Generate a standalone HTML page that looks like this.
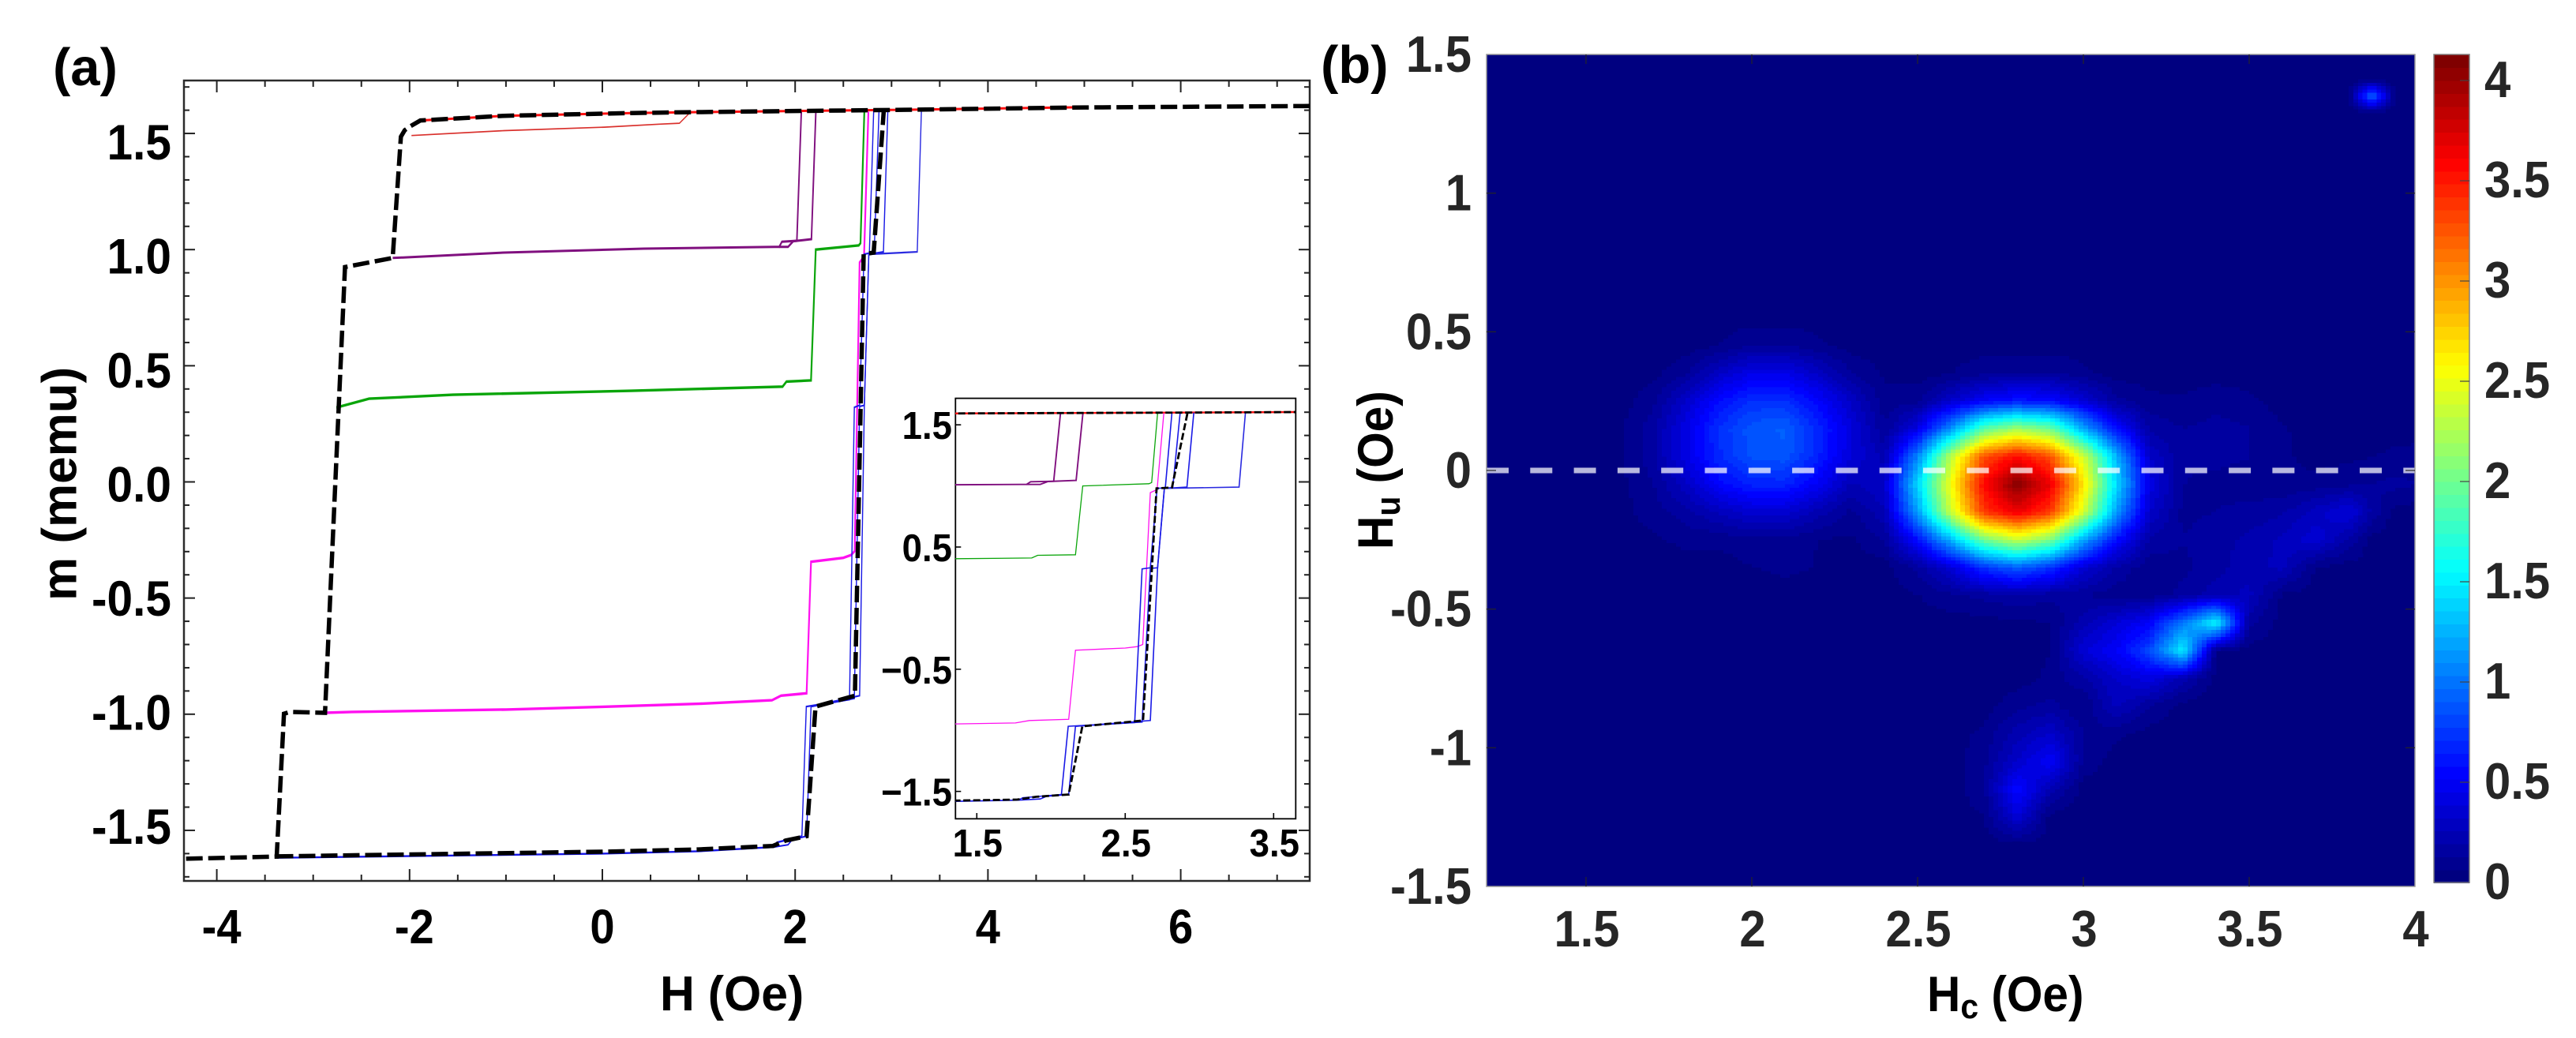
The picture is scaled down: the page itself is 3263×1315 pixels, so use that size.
<!DOCTYPE html>
<html lang="en">
<head>
<meta charset="utf-8">
<title>Hysteresis minor loops and FORC distribution</title>
<style>
html,body{margin:0;padding:0;background:#fff;width:3263px;height:1315px;overflow:hidden}
svg{display:block}
text{font-family:"Liberation Sans",sans-serif;font-weight:700}
</style>
</head>
<body>
<svg id="fig" xmlns="http://www.w3.org/2000/svg" width="3263" height="1315" viewBox="0 0 3263 1315">
  <rect width="3263" height="1315" fill="#fff"/>
  <defs>
    <clipPath id="clipMain"><rect x="233" y="102" width="1426" height="1014"/></clipPath>
    <clipPath id="clipInset"><rect x="1210" y="505" width="431" height="532"/></clipPath>
  </defs>
  <g id="panelA"></g>
  <g id="panelB"></g>
  <text x="67" y="108" font-size="67" fill="#000">(a)</text>
  <text x="1673" y="105" font-size="67" fill="#000">(b)</text>
  <text transform="translate(836,1280) scale(.98,1)" font-size="62" fill="#000">H (Oe)</text>
  <text transform="translate(96.5,761) rotate(-90)" font-size="62" fill="#000">m (memu)</text>
  <text transform="translate(2441,1281) scale(.93,1)" font-size="63" fill="#000">H<tspan font-size="44" dy="9">c</tspan><tspan dy="-9"> (Oe)</tspan></text>
  <text transform="translate(1764,696) rotate(-90) scale(.93,1)" font-size="63" fill="#000">H<tspan font-size="44" dy="9">u</tspan><tspan dy="-9"> (Oe)</tspan></text>
</svg>
<script>
// ---------- Panel (a) data: [H (Oe), m (memu)] ----------
const redLower = [[-1.98,1.491],[-1.02,1.512],[0.02,1.527],[0.59,1.54],[0.8,1.544],[0.917,1.593]];
const redUpper = [[-1.888,1.556],[-1.02,1.576],[0.3,1.588],[1,1.592],[3,1.601],[5.02,1.613]];
const purpleA = [[-2.175,0.964],[-2.07,0.966],[-1.02,0.987],[0.43,1.004],[1.79,1.012],[1.835,1.012],[1.863,1.034],[2.018,1.038],[2.064,1.594]];
const purpleB = [[1.835,1.012],[1.927,1.012],[1.98,1.036],[2.169,1.045],[2.215,1.594]];
const greenLoop = [[-2.76,0.32],[-2.42,0.358],[-1.55,0.375],[0.3,0.392],[1.87,0.41],[1.91,0.432],[2.165,0.437],[2.214,1.0],[2.66,1.018],[2.678,1.028],[2.718,1.594]];
const magentaLoop = [[-2.877,-0.994],[-2.6,-0.99],[-1,-0.98],[0,-0.968],[1,-0.955],[1.76,-0.94],[1.854,-0.92],[2.119,-0.91],[2.165,-0.344],[2.5,-0.327],[2.58,-0.315],[2.618,-0.298],[2.669,0.945],[2.715,0.97],[2.76,1.594]];
const blueLowerA = [[-3.378,-1.618],[0,-1.6],[1,-1.59],[1.78,-1.572],[1.81,-1.552],[2.07,-1.525]];
const blueLowerB = [[1.78,-1.572],[1.927,-1.562],[1.97,-1.54],[2.119,-1.525]];
const blueA = [[2.07,-1.525],[2.116,-0.967],[2.564,-0.937],[2.614,0.321],[2.669,0.33],[2.715,0.98],[2.77,0.985],[2.815,1.6]];
const blueB = [[2.119,-1.525],[2.165,-0.967],[2.614,-0.932],[2.669,0.325],[2.718,0.33],[2.764,0.98],[2.82,0.987],[2.87,1.6]];
const blueC = [[2.165,-0.967],[2.669,-0.92],[2.718,0.33],[2.764,0.98],[2.916,0.99],[2.962,1.6]];
const blueD = [[2.764,0.98],[3.267,0.99],[3.31,1.6]];
const dashUpper = [[7.34,1.618],[5,1.612],[3,1.601],[1,1.592],[0.3,1.588],[-1.02,1.576],[-1.888,1.556],[-1.99,1.531],[-2.05,1.514],[-2.09,1.486],[-2.175,0.964],[-2.67,0.925],[-2.877,-0.994],[-3.24,-0.99],[-3.303,-0.998],[-3.378,-1.613],[-4.34,-1.622]];
const dashLower = [[-3.378,-1.612],[0,-1.592],[1,-1.582],[1.77,-1.567],[1.9,-1.544],[2.119,-1.525],[2.211,-0.967],[2.62,-0.92],[2.711,0.98],[2.815,0.987],[2.92,1.6]];

const mainXLabels = [-4,-2,0,2,4,6];
const mainYLabels = ["1.5","1.0","0.5","0.0","-0.5","-1.0","-1.5"];
const mainYValues = [1.5,1.0,0.5,0,-0.5,-1.0,-1.5];
const insetXLabels = [1.5,2.5,3.5];
const insetYValues = [1.5,0.5,-0.5,-1.5];
const insetYLabels = ["1.5","0.5","\u22120.5","\u22121.5"];

// ---------- Panel (b) data: FORC density ----------
const hcValues = [1.2,1.6,1.7,1.8,1.9,2.0,2.1,2.2,2.3,2.4,2.5,2.6,2.7,2.8,2.9,3.0,3.1,3.2,3.3,3.4,3.5,3.6,3.7,3.8,3.87,3.94,4.0];
const huValues = [1.5,1.41,1.35,1.29,1.2,0.55,0.45,0.35,0.25,0.15,0.05,-0.05,-0.15,-0.25,-0.35,-0.45,-0.55,-0.65,-0.75,-0.85,-0.95,-1.05,-1.15,-1.25,-1.35,-1.5];
const zGrid = [
[0,0,0,0,0,0,0,0,0,0,0,0,0,0,0,0,0,0,0,0,0,0,0,0,0,0,0],
[0,0,0,0,0,0,0,0,0,0,0,0,0,0,0,0,0,0,0,0,0,0,0,0,0,0,0],
[0,0,0,0,0,0,0,0,0,0,0,0,0,0,0,0,0,0,0,0,0,0,0,0,.95,0,0],
[0,0,0,0,0,0,0,0,0,0,0,0,0,0,0,0,0,0,0,0,0,0,0,0,0,0,0],
[0,0,0,0,0,0,0,0,0,0,0,0,0,0,0,0,0,0,0,0,0,0,0,0,0,0,0],
[0,0,0,0,0,0,0,0,0,0,0,0,0,0,0,0,0,0,0,0,0,0,0,0,0,0,0],
[0,0,0,0,.03,.1,.1,.05,0,0,0,0,0,0,0,0,0,0,0,0,0,0,0,0,0,0,0],
[0,0,.01,.08,.28,.42,.42,.28,.1,.02,0,.03,.08,.1,.1,.05,0,0,0,0,0,0,0,0,0,0,0],
[0,0,.07,.3,.55,.7,.7,.52,.28,.06,.08,.3,.5,.6,.55,.35,.12,.05,.04,.08,.05,0,0,0,0,0,0],
[0,.02,.14,.4,.7,.86,.9,.66,.38,.1,.4,1.1,1.9,2.2,2.0,1.2,.55,.15,.1,.12,.1,.04,0,0,0,0,0],
[0,.02,.14,.4,.67,.84,.86,.64,.36,.2,1.05,2.3,3.3,3.6,3.3,2.4,1.25,.3,.1,.12,.1,.05,0,.02,.03,.05,.06],
[0,.01,.09,.27,.52,.65,.65,.47,.22,.3,1.4,2.55,3.6,4.1,3.7,2.7,1.4,.4,.1,.08,.06,.05,.06,.08,.1,.12,.1],
[0,.01,.06,.14,.24,.33,.33,.2,.08,.22,1.15,2.35,3.4,3.7,3.4,2.4,1.15,.3,.08,.1,.12,.15,.26,.38,.15,0,0],
[0,0,.02,.05,.05,.08,.08,.03,.02,.1,.55,1.25,2.0,2.35,2.05,1.2,.55,.15,.1,.14,.18,.25,.34,.15,0,0,0],
[0,0,0,0,0,.03,.05,.03,0,0,.12,.35,.7,.9,.7,.35,.15,.05,.08,.14,.2,.25,.03,0,0,0,0],
[0,0,0,0,0,0,0,0,0,0,.03,.08,.12,.15,.12,.1,.06,.06,.12,.2,.25,.02,0,0,0,0,0],
[0,0,0,0,0,0,0,0,0,.02,0,0,0,.02,.03,.2,.35,.5,1.0,1.55,.12,0,0,0,0,0,0],
[0,0,0,0,0,0,0,0,0,0,0,0,0,0,.03,.35,.5,.8,1.5,.02,0,0,0,0,0,0,0],
[0,0,0,0,0,0,0,0,0,0,0,0,0,0,.05,.15,.3,.4,.2,0,0,0,0,0,0,0,0],
[0,0,0,0,0,0,0,0,0,0,0,0,0,.08,.12,.03,.25,.1,0,0,0,0,0,0,0,0,0],
[0,0,0,0,0,0,0,0,0,0,0,0,.05,.2,.3,.1,.05,0,0,0,0,0,0,0,0,0,0],
[0,0,0,0,0,0,0,0,0,0,0,0,.08,.3,.5,.08,0,0,0,0,0,0,0,0,0,0,0],
[0,0,0,0,0,0,0,0,0,0,0,0,.08,.55,.2,0,0,0,0,0,0,0,0,0,0,0,0],
[0,0,0,0,0,0,0,0,0,0,0,0,.03,.35,0,0,0,0,0,0,0,0,0,0,0,0,0],
[0,0,0,0,0,0,0,0,0,0,0,0,0,0,0,0,0,0,0,0,0,0,0,0,0,0,0],
[0,0,0,0,0,0,0,0,0,0,0,0,0,0,0,0,0,0,0,0,0,0,0,0,0,0,0]
];
const heatXLabels = ["1.5","2","2.5","3","3.5","4"];
const heatXValues = [1.5,2,2.5,3,3.5,4];
const heatYLabels = ["1.5","1","0.5","0","-0.5","-1","-1.5"];
const heatYValues = [1.5,1,0.5,0,-0.5,-1,-1.5];
const barLabels = ["0","0.5","1","1.5","2","2.5","3","3.5","4"];
const barValues = [0,0.5,1,1.5,2,2.5,3,3.5,4];
const colorMax = 4.13;

// ---------- Axis functions ----------
const xMain = h => 763 + 122.1 * h;
const yMain = m => 610.5 - 294.3 * m;
const yMainLabel = m => 635.5 - 289 * m;
const xInset = h => 955.3 + 188 * h;
const yInset = m => 770.4 - 154.8 * m;
const xHeat = h => 1883 + 420 * (h - 1.2);
const yHeat = u => 596 - 351.3 * u;
const yBar = v => 1118 - 254 * v;

const NS = "http://www.w3.org/2000/svg";
const panelA = document.getElementById("panelA");
const panelB = document.getElementById("panelB");

function make(tag, attrs, parent) {
  const el = document.createElementNS(NS, tag);
  for (const k in attrs) el.setAttribute(k, attrs[k]);
  parent.appendChild(el);
  return el;
}
function seg(x1, y1, x2, y2, color, width, parent) {
  return make("line", {x1, y1, x2, y2, stroke: color, "stroke-width": width}, parent);
}
function label(x, y, str, size, anchor, sx, color, parent) {
  const el = make("text", {transform: `translate(${x},${y}) scale(${sx},1)`, "font-size": size, "text-anchor": anchor, fill: color}, parent);
  el.textContent = str;
  return el;
}
function curve(points, xf, yf, color, width, dash, parent) {
  const d = points.map(p => xf(p[0]).toFixed(1) + "," + yf(p[1]).toFixed(1)).join(" ");
  const attrs = {points: d, fill: "none", stroke: color, "stroke-width": width, "stroke-linejoin": "miter"};
  if (dash) attrs["stroke-dasharray"] = dash;
  return make("polyline", attrs, parent);
}
function jet(v) {
  let t = Math.max(0, Math.min(1, v / colorMax));
  t = Math.round(t * 63) / 63;
  const c = a => Math.round(255 * Math.max(0, Math.min(1, 1.5 - Math.abs(4 * t - a))));
  return `rgb(${c(3)},${c(2)},${c(1)})`;
}

// ---------- Panel (a): main frame and ticks ----------
const frame = make("rect", {x: 233, y: 102, width: 1426, height: 1014, fill: "#fff", stroke: "#2b2b2b", "stroke-width": 2.5}, panelA);



for (let i = -8; i <= 14; i++) {
  const h = i * 0.5;
  const major = i % 4 === 0;
  const len = major ? 15 : 8;
  const top = seg(xMain(h), 102, xMain(h), 102 + len, "#222", 2, panelA);
  
  
  const bot = seg(xMain(h), 1116, xMain(h), 1116 - len, "#222", 2, panelA);
  
  
}
for (let i = -17; i <= 17; i++) {
  const m = i * 0.1;
  const major = i % 5 === 0;
  const len = major ? 14 : 7;
  const lt = seg(233, yMain(m), 233 + len, yMain(m), "#222", 2, panelA);
  
  
  const rt = seg(1659, yMain(m), 1659 - len, yMain(m), "#222", 2, panelA);
  
  
}
mainXLabels.forEach(h => {
  const el = label(xMain(h) + (h < 0 ? 6 : 0), 1195, String(h), 61, "middle", 0.92, "#000", panelA);
  
  
});
mainYValues.forEach((m, i) => {
  const el = label(217, yMainLabel(m), mainYLabels[i], 63, "end", 0.93, "#000", panelA);
  
  
});

// ---------- Series, drawn in both the main plot and the inset ----------
// The main curves are thinner along x than along y, so they sit in a group squeezed horizontally.
function drawSeries(parent, xf, yf, squeeze, useInsetWidth, dashW, dashPattern) {
  const list = [
    ["minor-loop-red-lower", redLower, "#d9302c", 1.7, 1.2],
    ["minor-loop-red-upper", redUpper, "#ff1010", 3, 2.4],
    ["minor-loop-purple-a", purpleA, "#80107f", 3, 1.9],
    ["minor-loop-purple-b", purpleB, "#80107f", 3, 1.9],
    ["minor-loop-green", greenLoop, "#0aa50a", 3.4, 1.3],
    ["minor-loop-magenta", magentaLoop, "#ff10f0", 3.4, 1.3],
    ["minor-loop-blue-lower-a", blueLowerA, "#1414e6", 2.4, 1.6],
    ["minor-loop-blue-lower-b", blueLowerB, "#1414e6", 2, 1.6],
    ["minor-loop-blue-a", blueA, "#1a1ae6", 2.2, 1.6],
    ["minor-loop-blue-b", blueB, "#1a1ae6", 2.2, 1.6],
    ["minor-loop-blue-c", blueC, "#1a1ae6", 2.2, 1.6],
    ["minor-loop-blue-d", blueD, "#2a2ae0", 2.2, 1.6]
  ];
  const thin = make("g", {transform: `scale(${squeeze},1)`}, parent);
  
  
  const sxf = h => xf(h) / squeeze;
  list.forEach(s => {
    const el = curve(s[1], sxf, yf, s[2], useInsetWidth ? s[4] : s[3], null, thin);
    
    
  });
  const up = curve(dashUpper, xf, yf, "#000", dashW, dashPattern, parent);
  
  
  const lo = curve(dashLower, xf, yf, "#000", dashW, dashPattern, parent);
  
  
}
const mainSeries = make("g", {"clip-path": "url(#clipMain)"}, panelA);


drawSeries(mainSeries, xMain, yMain, 0.65, false, 5.5, "21 7");

// ---------- Inset ----------
const insetFrame = make("rect", {x: 1210.3, y: 504.6, width: 431, height: 532.7, fill: "#fff", stroke: "#000", "stroke-width": 1.8}, panelA);


const insetSeries = make("g", {"clip-path": "url(#clipInset)"}, panelA);


drawSeries(insetSeries, xInset, yInset, 1, true, 2.8, "9 3.5");
insetXLabels.forEach(h => {
  const t = seg(xInset(h), 1037.3, xInset(h), 1030, "#000", 1.6, panelA);
  
  
  const el = label(xInset(h) + 1, 1085, h.toFixed(1), 49, "middle", 0.93, "#000", panelA);
  
  
});
insetYValues.forEach((m, i) => {
  const t = seg(1210.3, yInset(m), 1217.3, yInset(m), "#000", 1.6, panelA);
  
  
  const el = label(1206, yInset(m) + 18, insetYLabels[i], 49, "end", 0.93, "#000", panelA);
  
  
});

// ---------- Panel (b): heatmap ----------
const heatBg = make("rect", {x: 1883, y: 69, width: 1176, height: 1054, fill: jet(0)}, panelB);


const heatGroup = make("g", {"shape-rendering": "crispEdges"}, panelB);



for (let r = 0; r < huValues.length - 1; r++) {
  for (let c = 0; c < hcValues.length - 1; c++) {
    const a = zGrid[r][c], b = zGrid[r][c + 1], d = zGrid[r + 1][c], e = zGrid[r + 1][c + 1];
    if (a === 0 && b === 0 && d === 0 && e === 0) continue;
    const x0 = xHeat(hcValues[c]), x1 = xHeat(hcValues[c + 1]);
    const y0 = yHeat(huValues[r]), y1 = yHeat(huValues[r + 1]);
    const nx = Math.max(1, Math.ceil((x1 - x0) / 6));
    const ny = Math.max(1, Math.ceil((y1 - y0) / 5));
    for (let j = 0; j < ny; j++) {
      for (let i = 0; i < nx; i++) {
        const u = (i + 0.5) / nx, w = (j + 0.5) / ny;
        const v = (a * (1 - u) + b * u) * (1 - w) + (d * (1 - u) + e * u) * w;
        if (v < 0.02) continue;
        const sx = x0 + (x1 - x0) * i / nx;
        const sy = y0 + (y1 - y0) * j / ny;
        const cell = make("rect", {x: sx.toFixed(1), y: sy.toFixed(1), width: ((x1 - x0) / nx + 0.6).toFixed(1), height: ((y1 - y0) / ny + 0.6).toFixed(1), fill: jet(v)}, heatGroup);
        
        
      }
    }
  }
}

const zeroLine = seg(1883, yHeat(0), 3059, yHeat(0), "rgba(255,255,255,.72)", 7, panelB);
zeroLine.setAttribute("stroke-dasharray", "28 27.3");



const heatFrame = make("rect", {x: 1883, y: 69, width: 1176, height: 1054, fill: "none", stroke: "#9a9a9a", "stroke-width": 1.5}, panelB);



heatXValues.forEach((h, i) => {
  if (h < 4) {
    const t1 = seg(xHeat(h), 1123, xHeat(h), 1111, "#262626", 1.2, panelB);
    
    
    const t2 = seg(xHeat(h), 69, xHeat(h), 81, "#262626", 1.2, panelB);
    
    
  }
  const el = label(xHeat(h) + 1, 1199, heatXLabels[i], 65, "middle", 0.92, "#262626", panelB);
  
  
});
heatYValues.forEach((u, i) => {
  if (Math.abs(u) < 1.5) {
    const t1 = seg(1883, yHeat(u), 1895, yHeat(u), "#262626", 1.2, panelB);
    
    
    const t2 = seg(3059, yHeat(u), 3047, yHeat(u), "#262626", 1.2, panelB);
    
    
  }
  const el = label(1864, yHeat(u) + 22, heatYLabels[i], 65, "end", 0.92, "#262626", panelB);
  
  
});

// ---------- Colorbar ----------
const barGroup = make("g", {"shape-rendering": "crispEdges"}, panelB);


for (let k = 0; k < 64; k++) {
  const v0 = colorMax * k / 64, v1 = colorMax * (k + 1) / 64;
  const band = make("rect", {x: 3083, y: yBar(v1).toFixed(1), width: 45, height: (yBar(v0) - yBar(v1) + 0.8).toFixed(1), fill: jet(colorMax * k / 63)}, barGroup);
  
  
}
const barFrame = make("rect", {x: 3083, y: 69, width: 45, height: 1049, fill: "none", stroke: "#808080", "stroke-width": 1.5}, panelB);


barValues.forEach((v, i) => {
  if (v > 0) {
    const t = seg(3128, yBar(v), 3116, yBar(v), "#444", 1.2, panelB);
    
    
  }
  const el = label(3147, yBar(v) + 21, barLabels[i], 65, "start", 0.92, "#262626", panelB);
  
  
});
</script>
</body>
</html>
